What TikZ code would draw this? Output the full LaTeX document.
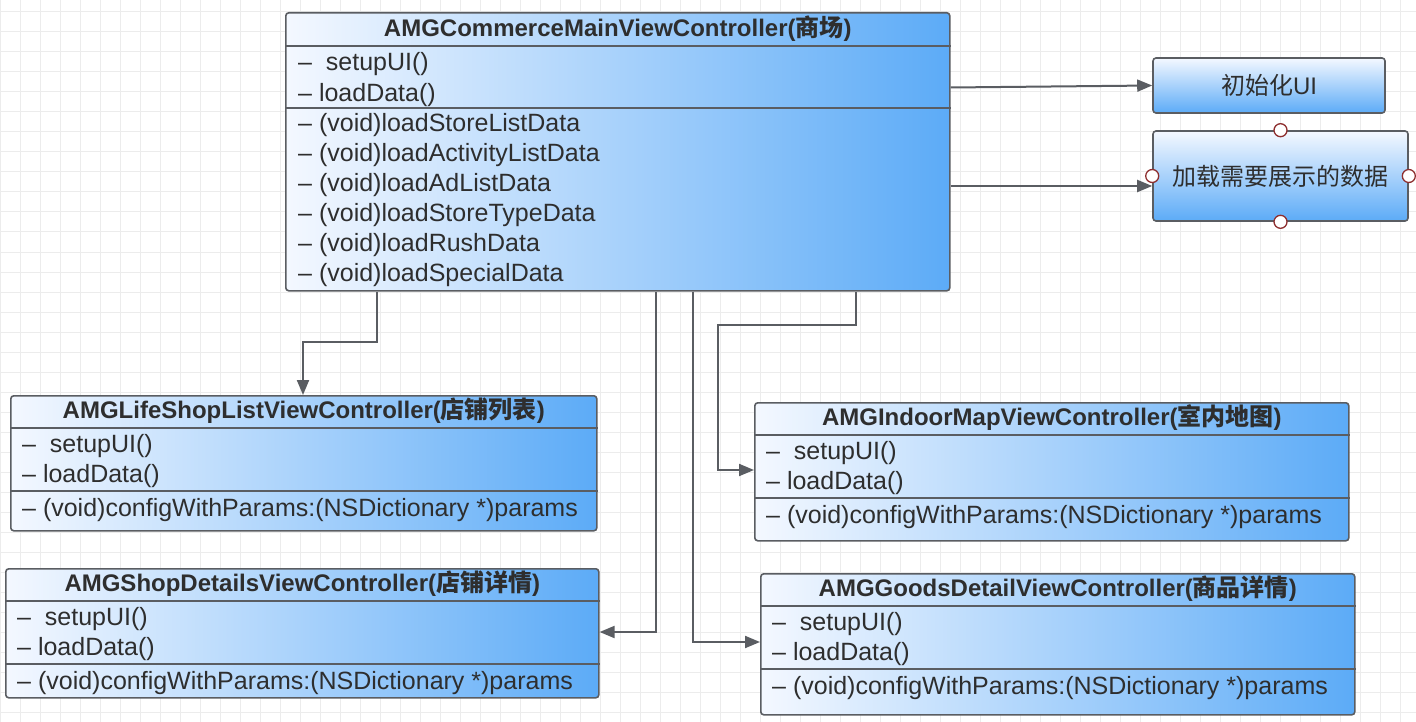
\documentclass[tikz,border=0pt]{standalone}
\usepackage{fontspec}
\setmainfont{Liberation Sans}
\newfontfamily\cjk{Noto Sans CJK SC}
\usetikzlibrary{arrows.meta,positioning}
\definecolor{gridgray}{HTML}{ECECEC}
\definecolor{edgegray}{HTML}{5A5D62}
\definecolor{inkgray}{HTML}{2E2E2E}
\definecolor{paleblue}{HTML}{F4F8FF}
\definecolor{deepblue}{HTML}{5CABF7}
\definecolor{portred}{HTML}{8E2F2F}
\tikzset{
  classbox/.style={draw=edgegray, line width=1.6pt, rounded corners=3pt, left color=paleblue, right color=deepblue, anchor=north west, inner sep=0pt},
  actbox/.style={draw=edgegray, line width=1.6pt, rounded corners=3pt, top color=paleblue, bottom color=deepblue, align=center, inner sep=0pt, text=inkgray, font=\fontsize{24}{28}\selectfont},
  title/.style={font=\bfseries\fontsize{24}{28}\selectfont, text=inkgray, inner sep=0pt},
  member/.style={anchor=west, font=\fontsize{25}{29}\selectfont, text=inkgray, inner sep=0pt},
  divider/.style={draw=edgegray, line width=1.6pt},
  flow/.style={-{Triangle[length=15pt,width=12pt]}, line width=2pt, draw=edgegray},
  port/.style={circle, draw=portred, line width=1.3pt, fill=white, minimum size=13pt, inner sep=0pt},
  gridline/.style={draw=gridgray, line width=1pt}
}

\begin{document}
\begin{tikzpicture}[x=1pt, y=-1pt]
  \useasboundingbox (0,0) rectangle (1416,722);
  \fill[white] (0,0) rectangle (1416,722);
  % background grid
  \foreach \gx in {0,20,...,1400} \draw[gridline] (\gx,0) -- (\gx,722);
  \foreach \gy in {12,32,...,712} \draw[gridline] (0,\gy) -- (1416,\gy);

  % main controller
  \node[classbox, minimum width=664pt, minimum height=278pt] (main) at (285,12) {};
  \node[title] at ([yshift=-17pt]main.north) {AMGCommerceMainViewController({\cjk 商场})};
  \draw[divider] ([yshift=-34pt]main.north west) -- ([yshift=-34pt]main.north east);
  \draw[divider] ([yshift=-96pt]main.north west) -- ([yshift=-96pt]main.north east);
  \node[member] at ([xshift=13pt,yshift=-52pt]main.north west) {–\ \ setupUI()};
  \node[member] at ([xshift=13pt,yshift=-83pt]main.north west) {– loadData()};
  \foreach \fn [count=\i] in {StoreList,ActivityList,AdList,StoreType,Rush,Special}
    \node[member] at ([xshift=13pt,yshift=-83pt-30pt*\i]main.north west) {– (void)load\fn Data};

  % actions
  \node[actbox, minimum width=232pt, minimum height=55pt] (init) at (1269,85.5) {{\cjk 初始化}UI};
  \node[actbox, minimum width=255pt, minimum height=90pt] (load) at (1280.5,176) {\cjk 加载需要展示的数据};
  \node[port] (loadn) at (load.north) {};
  \node[port] (loads) at (load.south) {};
  \node[port] (loadw) at (load.west) {};
  \node[port] (loade) at (load.east) {};

  % child controllers
  \foreach \nm/\px/\py/\w/\h/\ttl in {
      life/10/395/586/135/{AMGLifeShopListViewController({\cjk 店铺列表})},
      indoor/754/402/594/138/{AMGIndoorMapViewController({\cjk 室内地图})},
      shop/5/568/593/129/{AMGShopDetailsViewController({\cjk 店铺详情})},
      goods/760/573/594/141/{AMGGoodsDetailViewController({\cjk 商品详情})}}{
    \node[classbox, minimum width=\w pt, minimum height=\h pt] (\nm) at (\px,\py) {};
    \node[title] at ([yshift=-16pt]\nm.north) {\ttl};
    \draw[divider] ([yshift=-33pt]\nm.north west) -- ([yshift=-33pt]\nm.north east);
    \draw[divider] ([yshift=-96pt]\nm.north west) -- ([yshift=-96pt]\nm.north east);
    \node[member] at ([xshift=12pt,yshift=-51pt]\nm.north west) {–\ \ setupUI()};
    \node[member] at ([xshift=12pt,yshift=-81pt]\nm.north west) {– loadData()};
    \node[member] at ([xshift=12pt,yshift=-115pt]\nm.north west) {– (void)configWithParams:(NSDictionary *)params};
  }

  % connectors
  \draw[flow] ([yshift=-2pt]main.east |- init) -- (init.west);
  \draw[flow] (main.east |- loadw) ++(0,10) -- ([yshift=-10pt]loadw.center);
  \draw[flow] ([xshift=92pt]main.south west) -- ++(0,50) -| ([xshift=293pt]life.north west);
  \draw[flow] ([xshift=371pt]main.south west) |- ([yshift=-64pt]shop.north east);
  \draw[flow] ([xshift=408pt]main.south west) |- ([yshift=-69pt]goods.north west);
  \draw[flow] ([xshift=571pt]main.south west) -- ++(0,33) -- ++(-138,0) |- ([yshift=-68pt]indoor.north west);
\end{tikzpicture}
\end{document}
